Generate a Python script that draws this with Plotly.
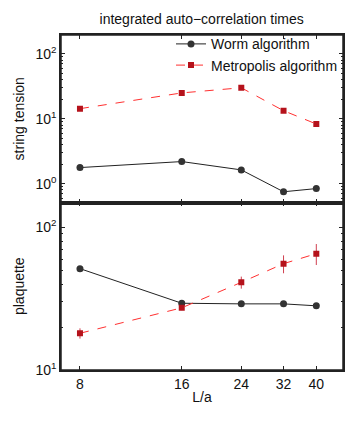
import plotly.graph_objects as go
from plotly.subplots import make_subplots

L = [8, 16, 24, 32, 40]
worm_string = [1.77, 2.19, 1.63, 0.75, 0.84]
metro_string = [14.3, 25.0, 30.0, 13.3, 8.3]
worm_plaq = [51.4, 29.4, 29.1, 29.1, 28.2]
metro_plaq = [18.1, 27.3, 41.2, 55.7, 65.5]
metro_plaq_err = [1.5, 1.0, 4.0, 8.0, 11.0]
xtick_labels = ["8", "16", "24", "32", "40"]

fig = make_subplots(rows=2, cols=1, shared_xaxes=True, vertical_spacing=0)

black = "#222222"
red_line = "#ff3030"
red_mark = "#b5121b"
font = "Liberation Sans, Arial, sans-serif"

fig.add_trace(go.Scatter(x=L, y=worm_string, mode="lines+markers", name="Worm algorithm",
                         line=dict(color=black, width=1),
                         marker=dict(symbol="circle", size=7, color="#333333")), row=1, col=1)
fig.add_trace(go.Scatter(x=L, y=metro_string, mode="lines+markers", name="Metropolis algorithm",
                         line=dict(color=red_line, width=1, dash="dash"),
                         marker=dict(symbol="square", size=6, color=red_mark)), row=1, col=1)
fig.add_trace(go.Scatter(x=L, y=worm_plaq, mode="lines+markers", showlegend=False,
                         line=dict(color=black, width=1),
                         marker=dict(symbol="circle", size=7, color="#333333")), row=2, col=1)
fig.add_trace(go.Scatter(x=L, y=metro_plaq, mode="lines+markers", showlegend=False,
                         error_y=dict(type="data", array=metro_plaq_err, color="#d04050", thickness=1, width=0),
                         line=dict(color=red_line, width=1, dash="dash"),
                         marker=dict(symbol="square", size=6, color=red_mark)), row=2, col=1)

axis_common = dict(showline=True, linecolor="#222222", linewidth=1.5, mirror="ticks",
                   ticks="inside", ticklen=4, tickcolor="#222222", showgrid=False, zeroline=False,
                   automargin=False,
                   tickfont=dict(size=14, color="#111111", family=font))

minor_top = [v * 10 ** e for e in (-1, 0, 1, 2) for v in range(2, 10)]
minor_bot = [v * 10 for v in range(2, 10)] + [v * 100 for v in range(2, 10)]

fig.update_xaxes(type="log", range=[0.847, 1.681], tickvals=L, ticktext=xtick_labels, **axis_common)
fig.update_xaxes(title=dict(text="L/a", font=dict(size=14, color="#111111", family=font), standoff=2), row=2, col=1)
fig.update_xaxes(showticklabels=False, row=1, col=1)

fig.update_yaxes(type="log", range=[-0.29, 2.29], tickvals=[1, 10, 100],
                 ticktext=["10<sup>0</sup>", "10<sup>1</sup>", "10<sup>2</sup>"],
                 minor=dict(ticks="inside", ticklen=2, tickcolor="#222222", showgrid=False, tickvals=minor_top),
                 title=dict(text="string tension", font=dict(size=14, color="#111111", family=font), standoff=8),
                 row=1, col=1, **axis_common)
fig.update_yaxes(type="log", range=[1.0, 2.175], tickvals=[10, 100],
                 ticktext=["10<sup>1</sup>", "10<sup>2</sup>"],
                 minor=dict(ticks="inside", ticklen=2, tickcolor="#222222", showgrid=False, tickvals=minor_bot),
                 title=dict(text="plaquette", font=dict(size=14, color="#111111", family=font), standoff=8),
                 row=2, col=1, **axis_common)

# frame around both panels and the divider
fig.add_shape(type="rect", xref="paper", yref="paper", x0=0, x1=1, y0=0, y1=1,
              line=dict(color="#222222", width=1.5), layer="above")
fig.add_shape(type="line", xref="paper", yref="paper", x0=0, x1=1, y0=0.5, y1=0.5,
              line=dict(color="#222222", width=2), layer="above")

fig.update_layout(
    width=341, height=411,
    margin=dict(l=53, r=6, t=27, b=49, autoexpand=False),
    paper_bgcolor="white", plot_bgcolor="white",
    title=dict(text="integrated auto\u2212correlation times", x=0.568, xanchor="center", y=0.974, yanchor="middle",
               font=dict(size=14, color="#111111", family=font)),
    legend=dict(x=1.0, xanchor="right", y=1.02, yanchor="top", bgcolor="rgba(0,0,0,0)",
                font=dict(size=14, color="#111111", family=font), tracegroupgap=0,
                itemwidth=30),
    showlegend=True,
)

fig.write_html("out.html")
